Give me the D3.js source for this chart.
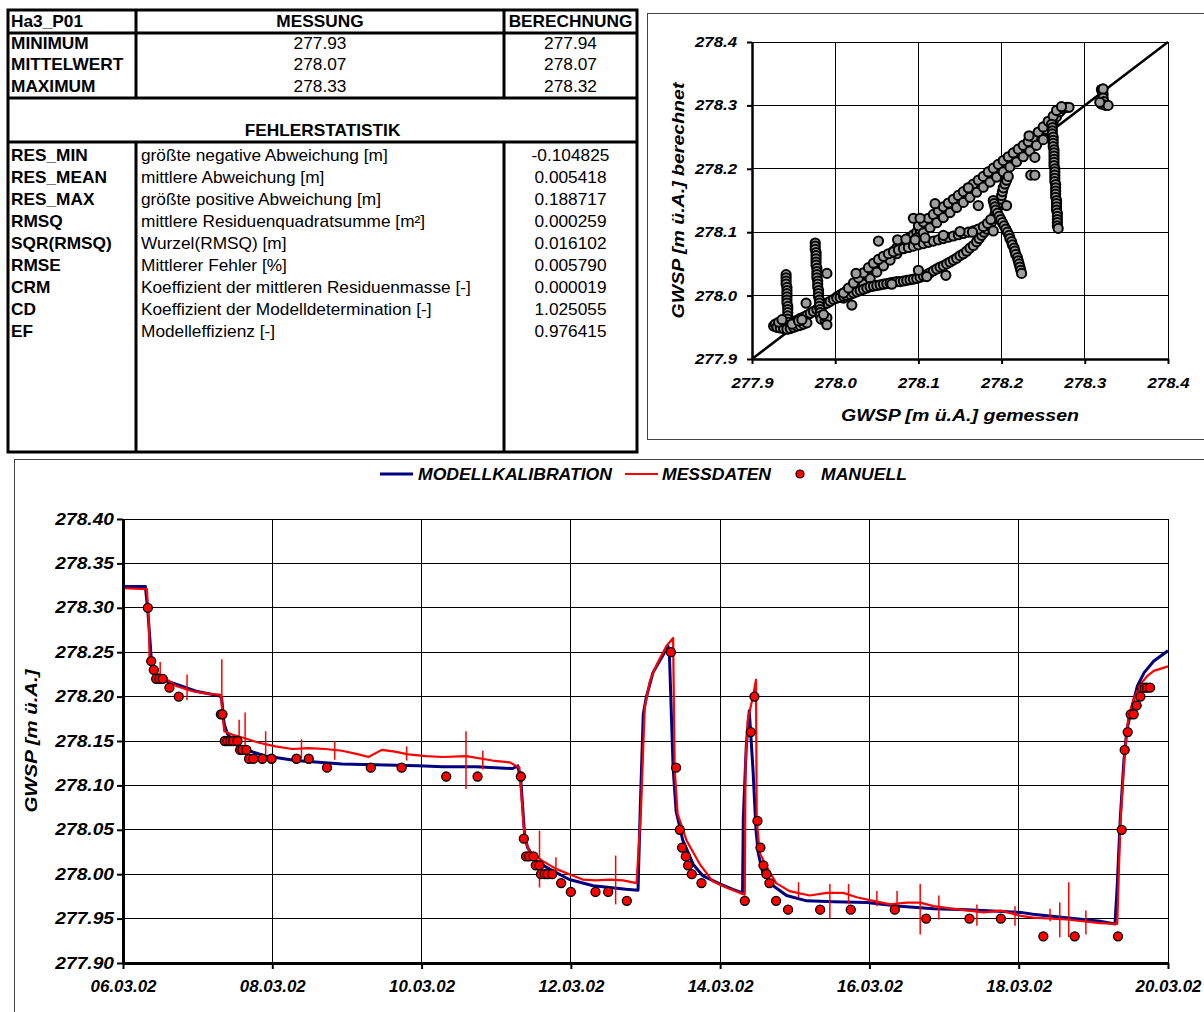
<!DOCTYPE html>
<meta charset="utf-8">
<style>
body { margin: 0; background: #fff; }
svg { display: block; font-family: "Liberation Sans", Arial, sans-serif; }
.grid line { stroke: #000; stroke-width: 1; shape-rendering: crispEdges; }
.frame { fill: none; stroke: #444; stroke-width: 1; shape-rendering: crispEdges; }
.tab line { stroke: #000; stroke-width: 3; }
</style>

<svg width="1204" height="1012"></svg>

<script src="https://d3js.org/d3.v7.min.js"></script>
<script>

// ---- Tabelle ----
var kopf = ["Ha3_P01", "MESSUNG", "BERECHNUNG"];
var kennwerte = ["MINIMUM", "MITTELWERT", "MAXIMUM"];
var messung = ["277.93", "278.07", "278.33"];
var berechnung = ["277.94", "278.07", "278.32"];
var fehlerTitel = "FEHLERSTATISTIK";
var fehlerKuerzel = ["RES_MIN", "RES_MEAN", "RES_MAX", "RMSQ", "SQR(RMSQ)", "RMSE", "CRM", "CD", "EF"];
var fehlerText = ["größte negative Abweichung [m]", "mittlere Abweichung [m]", "größte positive Abweichung [m]",
  "mittlere Residuenquadratsumme [m²]", "Wurzel(RMSQ) [m]", "Mittlerer Fehler [%]",
  "Koeffizient der mittleren Residuenmasse [-]", "Koeffizient der Modelldetermination [-]", "Modelleffizienz [-]"];
var fehlerWert = ["-0.104825", "0.005418", "0.188717", "0.000259", "0.016102", "0.005790", "0.000019", "1.025055", "0.976415"];

// ---- Ganglinie: Tage ab 06.03.02 00:00, GWSP [m ü.A.] ----
var xTicks = [0, 2, 4, 6, 8, 10, 12, 14];
var xTickLabels = ["06.03.02", "08.03.02", "10.03.02", "12.03.02", "14.03.02", "16.03.02", "18.03.02", "20.03.02"];
var yTicks = [277.90, 277.95, 278.00, 278.05, 278.10, 278.15, 278.20, 278.25, 278.30, 278.35, 278.40];
var legende = ["MODELLKALIBRATION", "MESSDATEN", "MANUELL"];

var modell = [
  [0, 278.324], [0.30, 278.324], [0.333, 278.296], [0.378, 278.244], [0.444, 278.225], [0.533, 278.219],
  [0.711, 278.214], [0.978, 278.206], [1.289, 278.201], [1.32, 278.199], [1.356, 278.169], [1.40, 278.158],
  [1.511, 278.146], [1.689, 278.139], [1.911, 278.133], [2.311, 278.128], [2.933, 278.124], [3.956, 278.122],
  [4.28, 278.121], [4.73, 278.121], [5.22, 278.119], [5.29, 278.122], [5.33, 278.105], [5.38, 278.045],
  [5.42, 278.030], [5.53, 278.015], [5.71, 278.006], [5.98, 277.994], [6.30, 277.987], [6.52, 277.985],
  [6.74, 277.983], [6.90, 277.982], [6.93, 278.075], [6.97, 278.180], [7.01, 278.199], [7.10, 278.227],
  [7.23, 278.246], [7.30, 278.257], [7.32, 278.248], [7.37, 278.120], [7.41, 278.071], [7.50, 278.038],
  [7.64, 278.011], [7.77, 277.998], [7.995, 277.989], [8.17, 277.983], [8.30, 277.979], [8.31, 278.062],
  [8.35, 278.144], [8.39, 278.184], [8.44, 278.118], [8.48, 278.050], [8.51, 278.024], [8.57, 278.002],
  [8.71, 277.987], [8.89, 277.976], [9.16, 277.970], [9.52, 277.969], [9.96, 277.968], [10.41, 277.964],
  [10.86, 277.961], [11.31, 277.960], [12.03, 277.957], [12.19, 277.955], [12.64, 277.951], [13.09, 277.947],
  [13.29, 277.944], [13.32, 277.987], [13.36, 278.062], [13.41, 278.129], [13.45, 278.163], [13.52, 278.189],
  [13.59, 278.212], [13.68, 278.227], [13.81, 278.240], [13.99, 278.251], [14.0, 278.252]
];

var messdaten = [
  [0, 278.322], [0.32, 278.321], [0.347, 278.281], [0.356, 278.240], [0.40, 278.229], [0.489, 278.225],
  [0.711, 278.212], [0.933, 278.206], [1.156, 278.203], [1.311, 278.202], [1.356, 278.161], [1.467, 278.157],
  [1.60, 278.154], [1.822, 278.148], [2.044, 278.144], [2.267, 278.141], [2.489, 278.142], [2.711, 278.141],
  [2.933, 278.139], [3.156, 278.135], [3.289, 278.132], [3.467, 278.140], [3.644, 278.138], [3.822, 278.135],
  [4.06, 278.133], [4.28, 278.132], [4.60, 278.133], [4.95, 278.128], [5.18, 278.126], [5.31, 278.120],
  [5.38, 278.041], [5.44, 278.026], [5.62, 278.015], [5.80, 278.006], [5.98, 278.000], [6.16, 277.994],
  [6.34, 277.993], [6.52, 277.994], [6.70, 277.993], [6.88, 277.990], [6.94, 278.075], [6.99, 278.188],
  [7.06, 278.218], [7.15, 278.236], [7.28, 278.257], [7.37, 278.266], [7.39, 278.120], [7.43, 278.068],
  [7.55, 278.038], [7.73, 278.011], [7.90, 277.992], [8.08, 277.985], [8.26, 277.979], [8.33, 277.977],
  [8.34, 278.125], [8.37, 278.174], [8.44, 278.200], [8.48, 278.219], [8.49, 278.062], [8.53, 278.024],
  [8.62, 278.009], [8.75, 277.990], [8.93, 277.981], [9.20, 277.976], [9.43, 277.979], [9.65, 277.979],
  [9.83, 277.974], [10.05, 277.970], [10.28, 277.966], [10.50, 277.968], [10.68, 277.968], [10.86, 277.964],
  [11.13, 277.961], [11.53, 277.957], [11.76, 277.959], [12.03, 277.953], [12.19, 277.951], [12.64, 277.949],
  [13.09, 277.945], [13.32, 277.944], [13.36, 278.054], [13.42, 278.137], [13.47, 278.178], [13.54, 278.197],
  [13.63, 278.214], [13.72, 278.223], [13.81, 278.229], [14.0, 278.234]
];

// Ausreisser der Messdaten: [Tag, unten, oben]
var messSpitzen = [
  [0.498, 278.218, 278.239], [0.858, 278.196, 278.225], [1.324, 278.195, 278.242], [1.556, 278.150, 278.174],
  [1.636, 278.143, 278.182], [1.911, 278.135, 278.161], [2.391, 278.131, 278.152], [2.836, 278.129, 278.150],
  [3.80, 278.128, 278.144], [4.595, 278.096, 278.161], [4.82, 278.118, 278.139], [5.58, 277.985, 278.049],
  [5.80, 277.998, 278.019], [6.60, 277.966, 278.021], [9.05, 277.974, 277.991], [9.47, 277.950, 277.989],
  [9.72, 277.966, 277.989], [10.10, 277.964, 277.981], [10.37, 277.961, 277.981], [10.68, 277.932, 277.989],
  [10.93, 277.949, 277.976], [11.44, 277.942, 277.966], [11.95, 277.942, 277.964], [12.42, 277.947, 277.961],
  [12.55, 277.929, 277.968], [12.67, 277.929, 277.991], [12.90, 277.932, 277.959]
];

var manuell = [
  [0.333, 278.30], [0.378, 278.24], [0.413, 278.23], [0.444, 278.22], [0.489, 278.22], [0.533, 278.22],
  [0.622, 278.21], [0.747, 278.20], [1.311, 278.18], [1.333, 278.18], [1.364, 278.15], [1.40, 278.15],
  [1.436, 278.15], [1.476, 278.15], [1.533, 278.15], [1.569, 278.14], [1.60, 278.14], [1.653, 278.14],
  [1.689, 278.13], [1.747, 278.13], [1.867, 278.13], [1.991, 278.13], [2.324, 278.13], [2.489, 278.13],
  [2.733, 278.12], [3.32, 278.12], [3.733, 278.12], [4.33, 278.11], [4.75, 278.11], [5.33, 278.11],
  [5.37, 278.04], [5.40, 278.02], [5.44, 278.02], [5.50, 278.02], [5.53, 278.01], [5.58, 278.01],
  [5.60, 278.00], [5.65, 278.00], [5.69, 278.00], [5.75, 278.00], [5.87, 277.99], [6.00, 277.98],
  [6.33, 277.98], [6.50, 277.98], [6.75, 277.97], [7.34, 278.25], [7.41, 278.12], [7.46, 278.05],
  [7.49, 278.03], [7.54, 278.02], [7.57, 278.01], [7.62, 278.00], [7.75, 277.99], [8.33, 277.97],
  [8.41, 278.16], [8.46, 278.20], [8.50, 278.06], [8.54, 278.03], [8.58, 278.01], [8.62, 278.00],
  [8.66, 277.99], [8.75, 277.97], [8.91, 277.96], [9.34, 277.96], [9.75, 277.96], [10.34, 277.96],
  [10.76, 277.95], [11.34, 277.95], [11.76, 277.95], [12.33, 277.93], [12.75, 277.93], [13.33, 277.93],
  [13.38, 278.05], [13.42, 278.14], [13.46, 278.16], [13.50, 278.18], [13.54, 278.18], [13.58, 278.19],
  [13.63, 278.20], [13.65, 278.21], [13.69, 278.21], [13.72, 278.21], [13.76, 278.21]
];

// ---- Streudiagramm: [gemessen, berechnet] ----
var streuTicks = [277.9, 278.0, 278.1, 278.2, 278.3, 278.4];

var streuHauptband = [
  [277.930, 277.952], [277.934, 277.953], [277.938, 277.954], [277.942, 277.956], [277.946, 277.957],
  [277.950, 277.958], [277.954, 277.961], [277.958, 277.964], [277.962, 277.966], [277.966, 277.969],
  [277.970, 277.972], [277.974, 277.975], [277.978, 277.978], [277.982, 277.982], [277.986, 277.985],
  [277.990, 277.988], [277.994, 277.991], [277.998, 277.994], [278.002, 277.998], [278.006, 278.001],
  [278.010, 278.004], [278.014, 278.008], [278.018, 278.010], [278.022, 278.014], [278.026, 278.018],
  [278.030, 278.022], [278.034, 278.027], [278.038, 278.032], [278.042, 278.036], [278.046, 278.041],
  [278.050, 278.046], [278.054, 278.051], [278.058, 278.056], [278.062, 278.060], [278.066, 278.065],
  [278.070, 278.070], [278.074, 278.075], [278.078, 278.080], [278.082, 278.084], [278.086, 278.088],
  [278.090, 278.092], [278.094, 278.096], [278.098, 278.100], [278.102, 278.104], [278.106, 278.108],
  [278.110, 278.112], [278.114, 278.116], [278.118, 278.120], [278.122, 278.124], [278.126, 278.128],
  [278.130, 278.132], [278.134, 278.136], [278.138, 278.140], [278.142, 278.144], [278.146, 278.148],
  [278.150, 278.152], [278.154, 278.156], [278.158, 278.160], [278.162, 278.164], [278.166, 278.168],
  [278.170, 278.172], [278.174, 278.176], [278.178, 278.180], [278.182, 278.184], [278.186, 278.188],
  [278.190, 278.192], [278.194, 278.196], [278.198, 278.200], [278.202, 278.204], [278.206, 278.208],
  [278.210, 278.212], [278.214, 278.216], [278.218, 278.220], [278.222, 278.225], [278.226, 278.229],
  [278.230, 278.233], [278.234, 278.237], [278.238, 278.242], [278.242, 278.246], [278.246, 278.251],
  [278.250, 278.256], [278.254, 278.262], [278.258, 278.267], [278.262, 278.273], [278.266, 278.282],
  [278.270, 278.290], [278.274, 278.295], [278.278, 278.297], [278.281, 278.297],
  // oberhalb der Winkelhalbierenden
  [278.100, 278.110], [278.106, 278.116], [278.112, 278.122], [278.118, 278.128], [278.124, 278.134],
  [278.130, 278.140], [278.136, 278.146], [278.142, 278.152], [278.148, 278.158], [278.154, 278.164],
  [278.160, 278.170], [278.166, 278.176], [278.172, 278.182], [278.178, 278.188], [278.184, 278.195],
  [278.190, 278.201], [278.196, 278.207], [278.202, 278.213], [278.208, 278.219], [278.214, 278.225],
  [278.220, 278.231], [278.226, 278.237], [278.232, 278.243], [278.238, 278.250], [278.244, 278.258],
  [278.250, 278.266], [278.256, 278.275], [278.262, 278.283], [278.266, 278.292], [278.272, 278.298],
  // knapp darunter
  [278.010, 277.996], [278.018, 278.002], [278.026, 278.009], [278.034, 278.018], [278.042, 278.027],
  [278.050, 278.037], [278.058, 278.047], [278.066, 278.056], [278.074, 278.066], [278.082, 278.075],
  [278.090, 278.083], [278.098, 278.091], [278.106, 278.099], [278.114, 278.107], [278.122, 278.115],
  [278.130, 278.123], [278.138, 278.131], [278.146, 278.139], [278.154, 278.147], [278.162, 278.155],
  [278.170, 278.163], [278.178, 278.171], [278.186, 278.179], [278.194, 278.187], [278.202, 278.195],
  [278.210, 278.203], [278.218, 278.211], [278.226, 278.219], [278.234, 278.228], [278.242, 278.237],
  [278.250, 278.246]
];

var streuAnstieg = [
  [278.002, 277.996], [278.006, 277.997], [278.010, 277.999], [278.014, 278.000], [278.018, 278.002],
  [278.022, 278.004], [278.026, 278.006], [278.030, 278.008], [278.034, 278.010], [278.038, 278.012],
  [278.042, 278.014], [278.046, 278.015], [278.050, 278.016], [278.054, 278.017], [278.058, 278.018],
  [278.062, 278.019], [278.066, 278.020], [278.070, 278.021], [278.074, 278.022], [278.078, 278.022],
  [278.082, 278.023], [278.086, 278.024], [278.090, 278.025], [278.094, 278.026], [278.098, 278.027],
  [278.102, 278.029], [278.106, 278.031], [278.110, 278.033], [278.114, 278.036], [278.118, 278.039],
  [278.122, 278.042], [278.126, 278.045], [278.130, 278.047], [278.134, 278.050], [278.138, 278.053],
  [278.142, 278.056], [278.146, 278.059], [278.150, 278.063], [278.154, 278.066], [278.158, 278.070],
  [278.162, 278.075], [278.166, 278.079], [278.170, 278.085], [278.173, 278.090], [278.176, 278.095],
  [278.179, 278.100], [278.182, 278.105], [278.185, 278.110], [278.188, 278.116], [278.190, 278.122],
  [278.192, 278.128], [278.194, 278.134], [278.196, 278.140], [278.198, 278.146], [278.199, 278.152],
  [278.200, 278.158], [278.201, 278.164], [278.202, 278.170], [278.204, 278.176], [278.206, 278.182],
  [278.208, 278.188]
];

var streuMitte = [
  [278.010, 278.004], [278.016, 278.012], [278.022, 278.020], [278.028, 278.028], [278.034, 278.036],
  [278.040, 278.044], [278.046, 278.051], [278.052, 278.057], [278.058, 278.062], [278.064, 278.066],
  [278.070, 278.069], [278.076, 278.072], [278.082, 278.074], [278.088, 278.076], [278.094, 278.078],
  [278.100, 278.080], [278.106, 278.082], [278.112, 278.084], [278.118, 278.086], [278.124, 278.088],
  [278.130, 278.090], [278.136, 278.092], [278.142, 278.094], [278.148, 278.096], [278.154, 278.098],
  [278.160, 278.100], [278.166, 278.102], [278.172, 278.105], [278.178, 278.109], [278.183, 278.114],
  [278.187, 278.120],
  [278.075, 278.088], [278.085, 278.089], [278.096, 278.088], [278.108, 278.091], [278.130, 278.095],
  [278.150, 278.101], [278.165, 278.100]
];

var streuAbfall = [
  [278.190, 278.150], [278.191, 278.145], [278.192, 278.140], [278.193, 278.135], [278.195, 278.130],
  [278.197, 278.125], [278.199, 278.120], [278.201, 278.115], [278.203, 278.110], [278.205, 278.105],
  [278.207, 278.100], [278.209, 278.095], [278.210, 278.090], [278.212, 278.085], [278.213, 278.080],
  [278.215, 278.075], [278.216, 278.070], [278.217, 278.065], [278.219, 278.060], [278.220, 278.055],
  [278.221, 278.050], [278.222, 278.045], [278.223, 278.040], [278.224, 278.035]
];

var streuSenkrecht = [
  [278.260, 278.270], [278.261, 278.265], [278.261, 278.260], [278.261, 278.255], [278.262, 278.250],
  [278.262, 278.245], [278.262, 278.240], [278.262, 278.235], [278.263, 278.230], [278.263, 278.225],
  [278.263, 278.220], [278.263, 278.215], [278.263, 278.210], [278.263, 278.205], [278.264, 278.200],
  [278.264, 278.195], [278.264, 278.190], [278.264, 278.185], [278.264, 278.180], [278.265, 278.175],
  [278.265, 278.170], [278.265, 278.165], [278.265, 278.160], [278.265, 278.155], [278.266, 278.150],
  [278.266, 278.145], [278.266, 278.140], [278.266, 278.135], [278.267, 278.130], [278.267, 278.125],
  [278.267, 278.120], [278.267, 278.115], [278.267, 278.110], [278.268, 278.106],
  [277.941, 278.033], [277.941, 278.028], [277.941, 278.023], [277.941, 278.018], [277.942, 278.013],
  [277.942, 278.008], [277.942, 278.003], [277.942, 277.998], [277.942, 277.993], [277.942, 277.988],
  [277.943, 277.983], [277.943, 277.978], [277.943, 277.973], [277.943, 277.968], [277.943, 277.963],
  [277.944, 277.958], [277.944, 277.953], [277.944, 277.948],
  [277.976, 278.083], [277.976, 278.078], [277.976, 278.073], [277.977, 278.068], [277.977, 278.063],
  [277.977, 278.058], [277.977, 278.053], [277.977, 278.048], [277.978, 278.043], [277.978, 278.038],
  [277.978, 278.033], [277.978, 278.028], [277.979, 278.023], [277.979, 278.018], [277.979, 278.013],
  [277.980, 278.008], [277.980, 278.003], [277.980, 277.998], [277.981, 277.993], [277.981, 277.988],
  [277.981, 277.983], [277.982, 277.978], [277.982, 277.973], [277.982, 277.968], [277.983, 277.963]
];

var streuEinzel = [
  [278.320, 278.325], [278.321, 278.322], [278.322, 278.318], [278.322, 278.312], [278.323, 278.306],
  [278.320, 278.302], [278.325, 278.300], [278.328, 278.300], [278.318, 278.305], [278.322, 278.326],
  [277.926, 277.952], [277.928, 277.955], [277.930, 277.950], [277.934, 277.949], [277.938, 277.948],
  [277.942, 277.947], [277.946, 277.948], [277.950, 277.950], [277.954, 277.952], [277.958, 277.953],
  [277.962, 277.955], [277.966, 277.957], [277.932, 277.958], [277.936, 277.962], [277.948, 277.955],
  [277.956, 277.960], [277.960, 277.962],
  [277.988, 277.960], [277.990, 277.965], [277.986, 277.970], [277.990, 277.954], [277.990, 278.035],
  [277.965, 277.988], [278.020, 277.985], [278.025, 278.035], [278.052, 278.086], [278.094, 278.122],
  [278.102, 278.122], [278.133, 278.032], [278.172, 278.142], [278.190, 278.102], [278.206, 278.142],
  [278.235, 278.190], [278.240, 278.190], [278.240, 278.218], [278.233, 278.252], [278.068, 278.018],
  [278.120, 278.145], [278.160, 278.170], [278.100, 278.040], [278.110, 278.030]
];

var streuung = [].concat(streuHauptband, streuAnstieg, streuMitte, streuAbfall, streuSenkrecht, streuEinzel);

var svg = d3.select("svg");

// Text mit horizontaler Streckung (Vorlage ist in die Breite gezogen)
function text(g, x, y, s, opts) {
  opts = opts || {};
  var k = opts.k || 1;
  var rot = opts.rotate ? " rotate(" + opts.rotate + ")" : "";
  return g.append("text")
    .attr("transform", "translate(" + x + "," + y + ")" + rot + " scale(" + k + ",1)")
    .attr("text-anchor", opts.anchor || "start")
    .attr("font-size", opts.size || 16)
    .attr("font-weight", opts.bold ? "bold" : null)
    .attr("font-style", opts.italic ? "italic" : null)
    .attr("fill", "#000")
    .text(s);
}

// ================= Tabelle =================
var tab = svg.append("g").attr("class", "tab");
var colX = [8, 136, 504, 637];
var rowY = [10, 33, 98, 142, 452];
var tk = 1.08;

tab.append("rect").attr("x", colX[0]).attr("y", rowY[0])
  .attr("width", colX[3] - colX[0]).attr("height", rowY[4] - rowY[0])
  .attr("fill", "none").attr("stroke", "#000").attr("stroke-width", 3);
[rowY[1], rowY[2], rowY[3]].forEach(function(y) {
  tab.append("line").attr("x1", colX[0]).attr("x2", colX[3]).attr("y1", y).attr("y2", y);
});
[colX[1], colX[2]].forEach(function(x) {
  tab.append("line").attr("x1", x).attr("x2", x).attr("y1", rowY[0]).attr("y2", rowY[2]);
  tab.append("line").attr("x1", x).attr("x2", x).attr("y1", rowY[3]).attr("y2", rowY[4]);
});

var mid2 = (colX[1] + colX[2]) / 2, mid3 = (colX[2] + colX[3]) / 2;
text(tab, colX[0] + 3, 27, kopf[0], {bold: true, k: tk});
text(tab, mid2, 27, kopf[1], {bold: true, k: tk, anchor: "middle"});
text(tab, mid3, 27, kopf[2], {bold: true, k: tk, anchor: "middle"});
kennwerte.forEach(function(s, i) {
  var y = [49, 70, 92][i];
  text(tab, colX[0] + 3, y, s, {bold: true, k: tk});
  text(tab, mid2, y, messung[i], {k: tk, anchor: "middle"});
  text(tab, mid3, y, berechnung[i], {k: tk, anchor: "middle"});
});
text(tab, (colX[0] + colX[3]) / 2, 136, fehlerTitel, {bold: true, k: tk, anchor: "middle"});
fehlerKuerzel.forEach(function(s, i) {
  var y = 161 + i * 22;
  text(tab, colX[0] + 3, y, s, {bold: true, k: tk});
  text(tab, colX[1] + 5, y, fehlerText[i], {k: tk});
  text(tab, mid3, y, fehlerWert[i], {k: tk, anchor: "middle"});
});

// ================= Streudiagramm =================
svg.append("rect").attr("class", "frame")
  .attr("x", 647.5).attr("y", 13.5).attr("width", 600).attr("height", 426);

var sx = d3.scaleLinear().domain([277.9, 278.4]).range([752, 1168]);
var sy = d3.scaleLinear().domain([277.9, 278.4]).range([359, 42]);
var sk = 1.2;

var sg = svg.append("g");
var sgrid = sg.append("g").attr("class", "grid");
sgrid.selectAll(".v").data(streuTicks.slice(1)).enter().append("line")
  .attr("x1", sx).attr("x2", sx).attr("y1", sy(277.9)).attr("y2", sy(278.4));
sgrid.selectAll(".h").data(streuTicks.slice(1)).enter().append("line")
  .attr("y1", sy).attr("y2", sy).attr("x1", sx(277.9)).attr("x2", sx(278.4));

sg.append("line")
  .attr("x1", sx(277.9)).attr("y1", sy(277.9)).attr("x2", sx(278.4)).attr("y2", sy(278.4))
  .attr("stroke", "#000").attr("stroke-width", 2.5);

sg.append("g").selectAll("circle").data(streuung).enter().append("circle")
  .attr("cx", function(d) { return sx(d[0]); })
  .attr("cy", function(d) { return sy(d[1]); })
  .attr("r", 4.6)
  .attr("fill", "#9e9e9e").attr("stroke", "#000").attr("stroke-width", 2);

var sxAxis = sg.append("g").attr("transform", "translate(0," + sy(277.9) + ")")
  .call(d3.axisBottom(sx).tickValues(streuTicks).tickFormat(d3.format(".1f")).tickSize(5).tickSizeOuter(0).tickPadding(14));
var syAxis = sg.append("g").attr("transform", "translate(" + sx(277.9) + ",0)")
  .call(d3.axisLeft(sy).tickValues(streuTicks).tickFormat(d3.format(".1f")).tickSize(5).tickSizeOuter(0));
[sxAxis, syAxis].forEach(function(a) {
  a.attr("font-family", null).attr("font-size", 14).attr("font-weight", "bold").attr("font-style", "italic");
  a.select(".domain").attr("stroke", "#000").attr("stroke-width", 2.5);
  a.selectAll(".tick line").attr("stroke", "#000").attr("stroke-width", 2);
  a.selectAll(".tick text").attr("fill", "#000");
});
sxAxis.selectAll(".tick text").attr("transform", "scale(" + sk + ",1)");
syAxis.selectAll(".tick text").attr("x", 0).attr("transform", "translate(-15,0) scale(" + sk + ",1)");

text(sg, (sx(277.9) + sx(278.4)) / 2, 421, "GWSP [m ü.A.] gemessen", {bold: true, italic: true, size: 17, k: 1.15, anchor: "middle"});
text(sg, 684, (sy(277.9) + sy(278.4)) / 2, "GWSP [m ü.A.] berechnet", {bold: true, italic: true, size: 17, k: 1.15, anchor: "middle", rotate: -90});

// ================= Ganglinie =================
svg.append("rect").attr("class", "frame")
  .attr("x", 14.5).attr("y", 459.5).attr("width", 1300).attr("height", 700);

var x = d3.scaleLinear().domain([0, 14]).range([123, 1168]);
var y = d3.scaleLinear().domain([277.90, 278.40]).range([963, 519]);

var tg = svg.append("g");
var tgrid = tg.append("g").attr("class", "grid");
tgrid.selectAll(".v").data(xTicks.slice(1)).enter().append("line")
  .attr("x1", x).attr("x2", x).attr("y1", y(277.90)).attr("y2", y(278.40));
tgrid.selectAll(".h").data(yTicks.slice(1)).enter().append("line")
  .attr("y1", y).attr("y2", y).attr("x1", x(0)).attr("x2", x(14));

tg.append("path").datum(modell)
  .attr("fill", "none").attr("stroke", "#000080").attr("stroke-width", 3).attr("stroke-linejoin", "round")
  .attr("d", d3.line().x(function(d) { return x(d[0]); }).y(function(d) { return y(d[1]); }));

tg.append("path").datum(messdaten)
  .attr("fill", "none").attr("stroke", "#ff0000").attr("stroke-width", 2.2).attr("stroke-linejoin", "round")
  .attr("d", d3.line().x(function(d) { return x(d[0]); }).y(function(d) { return y(d[1]); }));

tg.append("g").selectAll("line").data(messSpitzen).enter().append("line")
  .attr("x1", function(d) { return x(d[0]); }).attr("x2", function(d) { return x(d[0]); })
  .attr("y1", function(d) { return y(d[1]); }).attr("y2", function(d) { return y(d[2]); })
  .attr("stroke", "#ff0000").attr("stroke-width", 1.5);

tg.append("g").selectAll("circle").data(manuell).enter().append("circle")
  .attr("cx", function(d) { return x(d[0]); })
  .attr("cy", function(d) { return y(d[1]); })
  .attr("r", 4.5)
  .attr("fill", "#ff0000").attr("stroke", "#000").attr("stroke-width", 1.3);

var xAxis = tg.append("g").attr("transform", "translate(0," + y(277.90) + ")")
  .call(d3.axisBottom(x).tickValues(xTicks).tickFormat(function(d, i) { return xTickLabels[i]; })
    .tickSize(6).tickSizeOuter(0).tickPadding(12));
var yAxis = tg.append("g").attr("transform", "translate(" + x(0) + ",0)")
  .call(d3.axisLeft(y).tickValues(yTicks).tickFormat(d3.format(".2f")).tickSize(6).tickSizeOuter(0));
[xAxis, yAxis].forEach(function(a) {
  a.attr("font-family", null).attr("font-size", 16).attr("font-weight", "bold").attr("font-style", "italic");
  a.select(".domain").attr("stroke", "#000").attr("stroke-width", 3);
  a.selectAll(".tick line").attr("stroke", "#000").attr("stroke-width", 2);
  a.selectAll(".tick text").attr("fill", "#000");
});
xAxis.selectAll(".tick text").attr("transform", "scale(1.06,1)");
yAxis.selectAll(".tick text").attr("x", 0).attr("transform", "translate(-9,0) scale(1.2,1)");

text(tg, 37, (y(277.90) + y(278.40)) / 2, "GWSP [m ü.A.]", {bold: true, italic: true, size: 17, k: 1.2, anchor: "middle", rotate: -90});

// Legende
var lg = tg.append("g");
lg.append("line").attr("x1", 380).attr("x2", 413).attr("y1", 474).attr("y2", 474)
  .attr("stroke", "#000080").attr("stroke-width", 3);
text(lg, 418, 480, legende[0], {bold: true, italic: true, size: 16, k: 1.1});
lg.append("line").attr("x1", 625).attr("x2", 658).attr("y1", 474).attr("y2", 474)
  .attr("stroke", "#ff0000").attr("stroke-width", 2);
text(lg, 662, 480, legende[1], {bold: true, italic: true, size: 16, k: 1.1});
lg.append("circle").attr("cx", 800).attr("cy", 474).attr("r", 4)
  .attr("fill", "#ff0000").attr("stroke", "#000").attr("stroke-width", 1.2);
text(lg, 821, 480, legende[2], {bold: true, italic: true, size: 16, k: 1.1});

</script>
